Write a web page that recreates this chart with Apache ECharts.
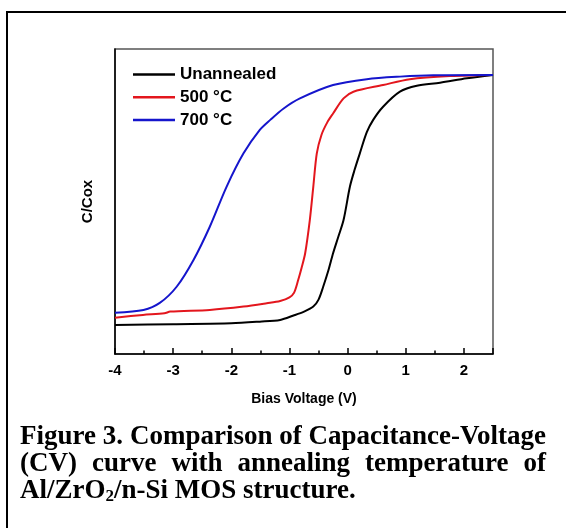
<!DOCTYPE html>
<html>
<head>
<meta charset="utf-8">
<script src="https://cdn.jsdelivr.net/npm/echarts@6/dist/echarts.min.js"></script>
<style>html,body{margin:0;padding:0;background:#fff;}#c{width:566px;height:528px;}</style>
</head>
<body>
<div id="c"></div>
<script>
// ---- data ----
const seriesNames = ['Unannealed', '500 °C', '700 °C'];
const unannealedV = [-4, -3, -2, -1.51, -1.16, -0.93, -0.75, -0.59, -0.5, -0.42, -0.33, -0.25, -0.16, -0.07, 0.04, 0.12, 0.21, 0.33, 0.44, 0.61, 0.9, 1.19, 1.59, 2.05, 2.5];
const unannealedC = [0.104, 0.107, 0.11, 0.116, 0.122, 0.138, 0.152, 0.17, 0.195, 0.241, 0.3, 0.361, 0.42, 0.48, 0.6, 0.66, 0.719, 0.795, 0.839, 0.886, 0.94, 0.961, 0.972, 0.988, 1.0];
const a500V = [-4, -3.52, -3.15, -3.05, -2.37, -1.79, -1.39, -1.16, -1.0, -0.92, -0.85, -0.79, -0.73, -0.65, -0.59, -0.53, -0.45, -0.35, -0.25, -0.07, 0.1, 0.61, 1.07, 1.76, 2.5];
const a500C = [0.13, 0.14, 0.146, 0.152, 0.158, 0.17, 0.182, 0.19, 0.203, 0.22, 0.265, 0.31, 0.361, 0.48, 0.6, 0.719, 0.785, 0.83, 0.862, 0.916, 0.94, 0.964, 0.985, 0.996, 1.0];
const a700V = [-4, -3.51, -3.23, -2.94, -2.65, -2.37, -2.08, -1.79, -1.51, -1.33, -1.1, -0.82, -0.25, 0.33, 0.9, 1.47, 2.5];
const a700C = [0.148, 0.158, 0.183, 0.241, 0.337, 0.456, 0.6, 0.719, 0.803, 0.839, 0.88, 0.916, 0.964, 0.985, 0.994, 0.999, 1.0];
const xTickLabels = ['-4', '-3', '-2', '-1', '0', '1', '2'];
const captionLine1 = ['Figure', '3.', 'Comparison', 'of', 'Capacitance-Voltage'];
const captionLine2 = ['(CV)', 'curve', 'with', 'annealing', 'temperature', 'of'];
const captionLine3 = 'Al/ZrO{sub|2}/n-Si MOS structure.';

function pairs(xs, ys) { return xs.map((x, i) => [x, ys[i]]); }

const capFont = 'bold 27px "Liberation Serif"';
const mctx = document.createElement('canvas').getContext('2d');
mctx.font = capFont;
function justify(words, y) {
  const L = 20, R = 546;
  const widths = words.map(w => mctx.measureText(w).width);
  const total = widths.reduce((a, b) => a + b, 0);
  const gap = (R - L - total) / (words.length - 1);
  let x = L;
  return words.map((w, i) => {
    const el = {type: 'text', x: x, y: y, style: {text: w, font: capFont, fill: '#000', verticalAlign: 'top'}};
    x += widths[i] + gap;
    return el;
  });
}

const chart = echarts.init(document.getElementById('c'), null, {renderer: 'canvas'});
const colors = ['#000000', '#e3161d', '#1515cc'];
chart.setOption({
  animation: false,
  backgroundColor: '#fff',
  color: colors,
  grid: {left: 115, top: 49, right: 73, bottom: 174, show: true, borderColor: '#555', borderWidth: 1.5, backgroundColor: 'transparent'},
  legend: {
    orient: 'vertical', left: 133, top: 66, padding: 0, itemWidth: 42, itemHeight: 2.5, itemGap: 5.7,
    icon: 'rect',
    data: seriesNames,
    textStyle: {fontFamily: 'Liberation Sans', fontWeight: 'bold', fontSize: 17, color: '#000'}
  },
  xAxis: {
    type: 'value', min: -4, max: 2.5, interval: 1,
    name: 'Bias Voltage (V)', nameLocation: 'middle', nameGap: 38,
    nameTextStyle: {fontFamily: 'Liberation Sans', fontWeight: 'bold', fontSize: 14, color: '#000'},
    axisLine: {onZero: false, lineStyle: {color: '#000', width: 1.5}},
    axisTick: {inside: true, length: 6, lineStyle: {color: '#000', width: 1.5}},
    minorTick: {show: true, splitNumber: 2, length: 3.5, lineStyle: {color: '#000', width: 1.5}},
    splitLine: {show: false},
    axisLabel: {
      showMaxLabel: false, margin: 9,
      fontFamily: 'Liberation Sans', fontWeight: 'bold', fontSize: 15, color: '#000',
      formatter: v => { const i = Math.round(v + 4); return (Math.abs(v - Math.round(v)) < 1e-6 && i >= 0 && i < xTickLabels.length) ? xTickLabels[i] : ''; }
    }
  },
  yAxis: {
    type: 'value', min: 0, max: 1.093,
    name: 'C/Cox', nameLocation: 'middle', nameGap: 20, nameRotate: 90,
    nameTextStyle: {fontFamily: 'Liberation Sans', fontWeight: 'bold', fontSize: 15, color: '#000'},
    axisLine: {show: true, onZero: false, lineStyle: {color: '#000', width: 1.5}},
    axisTick: {show: false}, axisLabel: {show: false}, splitLine: {show: false}
  },
  series: [
    {name: seriesNames[0], type: 'line', data: pairs(unannealedV, unannealedC), symbol: 'none', smooth: 0.3, lineStyle: {width: 2}},
    {name: seriesNames[1], type: 'line', data: pairs(a500V, a500C), symbol: 'none', smooth: 0.3, lineStyle: {width: 2}},
    {name: seriesNames[2], type: 'line', data: pairs(a700V, a700C), symbol: 'none', smooth: 0.3, lineStyle: {width: 2}}
  ],
  graphic: [
    {type: 'rect', shape: {x: 7, y: 12, width: 620, height: 620}, style: {fill: 'none', stroke: '#000', lineWidth: 2}, silent: true},
    ...justify(captionLine1, 424),
    ...justify(captionLine2, 451),
    {type: 'text', x: 20, y: 478, style: {
      text: captionLine3, font: capFont, fill: '#000', verticalAlign: 'top',
      rich: {sub: {font: 'bold 17px "Liberation Serif"', fill: '#000', verticalAlign: 'bottom', padding: [9, 0, 0, 0]}}
    }}
  ]
});
</script>
</body>
</html>
